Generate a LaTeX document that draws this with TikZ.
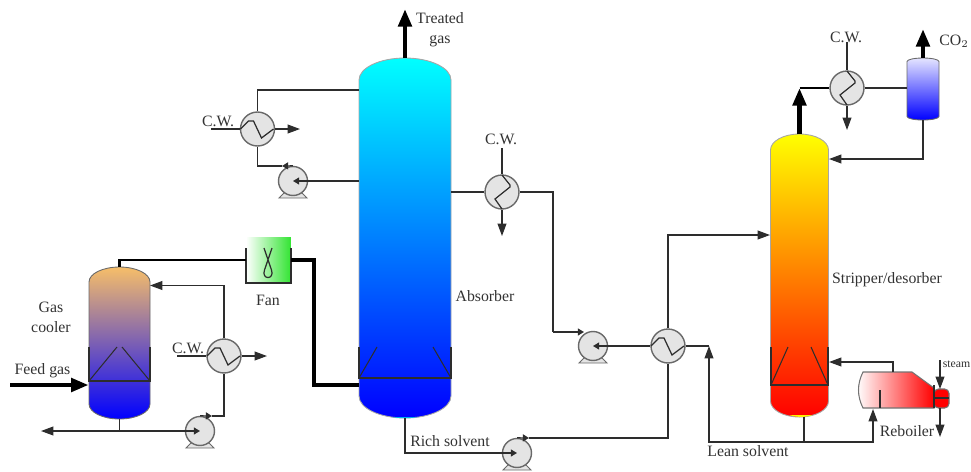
\documentclass[tikz,border=0pt]{standalone}
\usepackage{fontspec}
\setmainfont{Liberation Serif}
\usepackage{tikz}
\usetikzlibrary{arrows.meta}
\definecolor{pipegray}{RGB}{45,45,45}
\definecolor{ringgray}{RGB}{105,105,105}
\definecolor{bodygray}{RGB}{228,228,228}
\definecolor{txtgray}{RGB}{50,50,50}
\definecolor{tan}{RGB}{246,190,105}
\definecolor{plum}{RGB}{120,100,178}
\definecolor{absmid}{RGB}{0,135,255}
\definecolor{stripmid}{RGB}{255,130,0}
\definecolor{drumtop}{RGB}{228,228,255}
\definecolor{fangreen}{RGB}{50,228,50}
\tikzstyle{pipe} = [draw=pipegray, line width=0.7pt]
\tikzstyle{flow} = [pipe, -{Stealth[length=7pt,width=5pt,inset=0pt]}]
\tikzstyle{tick} = [pipe, -{Stealth[length=3.5pt,width=4pt,inset=0pt]}]
\tikzstyle{gas} = [draw=black, line width=1.6pt]
\tikzstyle{gasflow} = [draw=black, line width=2.6pt, -{Stealth[length=10pt,width=7.5pt,inset=0pt]}]
\tikzstyle{lbl} = [font=\fontsize{9}{11.3}\selectfont, text=txtgray, inner sep=0pt, align=center]
\tikzstyle{hx} = [circle, draw=ringgray, fill=bodygray, line width=0.8pt, inner sep=0pt, minimum size=0.68cm]
\tikzstyle{pumpbody} = [circle, draw=ringgray, fill=bodygray, line width=0.8pt, inner sep=0pt, minimum size=0.58cm]
\tikzstyle{hook} = [rectangle, inner sep=0pt]
\tikzstyle{zig} = [draw=pipegray, line width=0.7pt]
\tikzstyle{packing} = [draw=pipegray, line width=0.6pt]
% vessel: name, centre x, top, bottom, half width, cap, colours
\newcommand{\vessel}[7]{
  \path[draw=gray!70, line width=0.5pt, #7] (#2-#5,-#3-#6) arc[start angle=180, end angle=0, x radius=#5, y radius=#6]
    -- (#2+#5,-#4+#6) arc[start angle=0, end angle=-180, x radius=#5, y radius=#6] -- cycle;
  \node[hook, minimum width=0.04cm*#5, minimum height=0.02cm*(#4-#3)] (#1) at (#2,-#3/2-#4/2) {};
}
\newcommand{\hxflat}[3]{
  \node[hx] (#1) at (#2,#3) {};
  \draw[zig, shift={(#2,#3)}] (-17,0) -- (-9,8) -- (-4,8) -- (4,-9) -- (16,0);
}
\newcommand{\hxtall}[3]{
  \node[hx] (#1) at (#2,#3) {};
  \draw[zig, shift={(#2,#3)}] (0,17) -- (8,7) -- (8,5) -- (-7,-7) -- (0,-17);
}
\newcommand{\pump}[3]{
  \draw[draw=ringgray, fill=bodygray, line width=0.5pt, shift={(#2,#3)}] (-14,-17) -- (-9,-12) -- (9,-12) -- (14,-17) -- cycle;
  \node[pumpbody] (#1) at (#2,#3) {};
}
\begin{document}
\begin{tikzpicture}[x=0.02cm,y=0.02cm]
  \useasboundingbox (0,0) rectangle (971,-471);
  \clip (0,0) rectangle (971,-471);

  % vessels
  \vessel{cooler}{119.5}{267}{419}{30.5}{15}{shade, draw=ringgray, top color=tan, middle color=plum, bottom color=blue}
  \vessel{absorber}{405}{58}{418}{46}{22}{shade, top color=cyan, middle color=absmid, bottom color=blue}
  \vessel{stripper}{799.5}{134}{417}{29}{16}{shade, top color=yellow, middle color=stripmid, bottom color=red}
  \vessel{drum}{923}{58}{120}{16}{3.5}{shade, draw=ringgray, top color=drumtop, bottom color=blue}
  \fill[cyan] (392,-417) .. controls (400,-418.6) and (410,-418.6) .. (418,-417) -- cycle;
  \fill[yellow] (790,-415.2) .. controls (796,-417.4) and (806,-417.4) .. (812,-415.2) -- cycle;

  % trays
  \draw[packing] (89,-347) -- (89,-381) -- (150,-381) -- (150,-347);
  \draw[packing] (89,-381) -- (117,-347);
  \draw[packing] (150,-381) -- (122,-347);
  \draw[packing] (359,-347) -- (359,-378) -- (451,-378) -- (451,-347);
  \draw[packing] (359,-378) -- (377,-347);
  \draw[packing] (451,-378) -- (433,-347);
  \draw[packing] (771,-347) -- (771,-385) -- (828,-385) -- (828,-347);
  \draw[packing] (771,-385) -- (788,-347);
  \draw[packing] (828,-385) -- (811,-347);

  % fan
  \node[hook, left color=white, right color=fangreen, minimum width=0.9cm, minimum height=0.92cm] (fan) at (268.5,-260) {};
  \draw[pipe, line width=0.8pt] (246,-248) -- (246,-283) -- (291,-283) -- (291,-248);
  \draw[pipe] (264,-248) -- (271.5,-270) .. controls (275,-280) and (261,-280) .. (264.5,-270) -- (272,-248);

  % reboiler
  \path[left color=white, right color=red, draw=gray!90!black, line width=0.6pt] (863,-372) .. controls (857,-384) and (857,-396) .. (863,-408)
    -- (934,-408) -- (934,-388) -- (912,-372) -- cycle;
  \node[hook, minimum width=1.42cm, minimum height=0.72cm] (reboiler) at (896,-390) {};
  \draw[draw=gray!90!black, fill=red, line width=0.6pt, rounded corners=2.5pt] (934,-389) -- (949,-389) -- (949,-408) -- (934,-408) -- cycle;
  \draw[pipe] (934,-398) -- (949,-398);
  \draw[pipe] (934,-385) -- (934,-408);
  \draw[pipe] (880,-390) -- (880,-408);

  % exchangers and pumps
  \hxflat{hxcooler}{224}{-356}
  \hxflat{hxwash}{257.5}{-129}
  \hxtall{hxrich}{502}{-192}
  \hxflat{hxlean}{668}{-346}
  \hxtall{hxcond}{847}{-88}
  \pump{pumpcooler}{200}{-431}
  \pump{pumpwash}{293}{-181}
  \pump{pumprich}{593}{-346}
  \pump{pumpsolvent}{517}{-453}

  % free ends of the lines
  \coordinate (feedin) at (10,-385);
  \coordinate (drain) at (41,-431);
  \coordinate (coolerjoin) at (119.5,-431);
  \coordinate (coolerback) at (150,-285.5);
  \coordinate (fanjog) at (314,-260);
  \coordinate (absfeed) at (359,-385);
  \coordinate (coolercwin) at (177,-356);
  \coordinate (coolercwout) at (267,-356);
  \coordinate (coolertick) at (212,-416);
  \coordinate (treated) at (405,-9);
  \coordinate (washtop) at (359,-90);
  \coordinate (washin) at (359,-181);
  \coordinate (washcwin) at (211,-129);
  \coordinate (washcwout) at (300,-129);
  \coordinate (washtick) at (282,-166);
  \coordinate (richout) at (451,-192);
  \coordinate (richcwin) at (502,-148);
  \coordinate (richcwout) at (502,-236);
  \coordinate (richcorner) at (553,-332);
  \coordinate (richtick) at (584,-332);
  \coordinate (solventout) at (405,-418);
  \coordinate (solventtick) at (529,-438);
  \coordinate (stripfeed) at (770,-235);
  \coordinate (leanjoin) at (804,-442);
  \coordinate (leanright) at (709,-346);
  \coordinate (leanreb) at (873,-409);
  \coordinate (stripbottom) at (804,-417);
  \coordinate (stripback) at (829,-362);
  \coordinate (rebtop) at (893,-372);
  \coordinate (steamin) at (940,-360);
  \coordinate (steamtip) at (940,-389);
  \coordinate (steambot) at (940,-408);
  \coordinate (steamout) at (940,-437);
  \coordinate (striptop) at (799.5,-134);
  \coordinate (stripup) at (799.5,-88);
  \coordinate (condcwin) at (847,-42);
  \coordinate (condcwout) at (847,-130);
  \coordinate (drumin) at (907,-88);
  \coordinate (drumtopc) at (923,-58);
  \coordinate (co2out) at (923,-29);
  \coordinate (drumbot) at (923,-120);
  \coordinate (stripreflux) at (829,-159);

  % gas lines
  \draw[gasflow] (feedin) -- (cooler.west |- feedin);
  \draw[gas] (cooler.north) |- (fan.west);
  \draw[gas, line width=2.4pt] (fan.east) -- (fanjog) |- (absfeed);
  \draw[gasflow] (absorber.north) -- (treated);
  \draw[gasflow] (striptop) -- (stripup);
  \draw[gas] (stripup) -- (hxcond.west);
  \draw[gasflow] (drumtopc) -- (co2out);

  % gas cooler loop
  \draw[flow] (coolerjoin) -- (drain);
  \draw[pipe] (cooler.south) -- (coolerjoin);
  \draw[tick] (coolerjoin) -- (pumpcooler.center);
  \draw[tick] (pumpcooler.north) -- (coolertick);
  \draw[pipe] (coolertick) -| (hxcooler.south);
  \draw[flow] (hxcooler.north) |- (coolerback);
  \draw[pipe] (coolercwin) -- (hxcooler.west);
  \draw[flow] (hxcooler.east) -- (coolercwout);

  % wash loop
  \draw[pipe] (washtop) -| (hxwash.north);
  \draw[pipe] (washcwin) -- (hxwash.west);
  \draw[flow] (hxwash.east) -- (washcwout);
  \draw[tick] (washin) -- (pumpwash.center);
  \draw[tick] (pumpwash.north) -- (washtick);
  \draw[pipe] (washtick) -| (hxwash.south);

  % solvent lines
  \draw[pipe] (richout) -- (hxrich.west);
  \draw[pipe] (richcwin) -- (hxrich.north);
  \draw[flow] (hxrich.south) -- (richcwout);
  \draw[pipe] (hxrich.east) -| (richcorner);
  \draw[tick] (richcorner) -- (richtick);
  \draw[tick] (hxlean.west) -- (pumprich.center);
  \draw[tick] (solventout) |- (pumpsolvent.center);
  \draw[tick] (pumpsolvent.north) -- (solventtick);
  \draw[pipe] (solventtick) -| (hxlean.south);
  \draw[flow] (hxlean.north) |- (stripfeed);
  \draw[pipe] (hxlean.east) -- (leanright);
  \draw[flow] (leanjoin) -| (leanright);
  \draw[pipe] (stripbottom) -- (leanjoin);
  \draw[flow] (leanjoin) -| (leanreb);
  \draw[flow] (rebtop) |- (stripback);
  \draw[flow] (steamin) -- (steamtip);
  \draw[flow] (steambot) -- (steamout);

  % condenser
  \draw[pipe] (condcwin) -- (hxcond.north);
  \draw[flow] (hxcond.south) -- (condcwout);
  \draw[pipe] (hxcond.east) -- (drumin);
  \draw[flow] (drumbot) |- (stripreflux);

  % labels
  \node[lbl] (lblcooler) at (51,-317) {Gas\\cooler};
  \node[lbl] (lblfeed) at (42.5,-371) {Feed gas};
  \node[lbl] (lblfan) at (268,-300) {Fan};
  \node[lbl] (lblcw) at (188,-348) {C.W.};
  \node[lbl] (lblcwwash) at (218,-121) {C.W.};
  \node[lbl] (lblcwrich) at (501,-139) {C.W.};
  \node[lbl] (lblcwcond) at (846,-37) {C.W.};
  \node[lbl] (lbltreated) at (440,-29.5) {Treated\\gas};
  \node[lbl] (lblco) at (954,-41) {CO$_2$};
  \node[lbl] (lblabsorber) at (485,-296) {Absorber};
  \node[lbl] (lblstripper) at (887,-280) {Stripper/desorber};
  \node[lbl] (lblrich) at (450,-441) {Rich solvent};
  \node[lbl] (lbllean) at (748,-451) {Lean solvent};
  \node[lbl] (lblreboiler) at (907,-431) {Reboiler};
  \node[lbl, anchor=west, font=\fontsize{6.7}{8}\selectfont] (lblsteam) at (942.5,-364) {steam};
\end{tikzpicture}
\end{document}
